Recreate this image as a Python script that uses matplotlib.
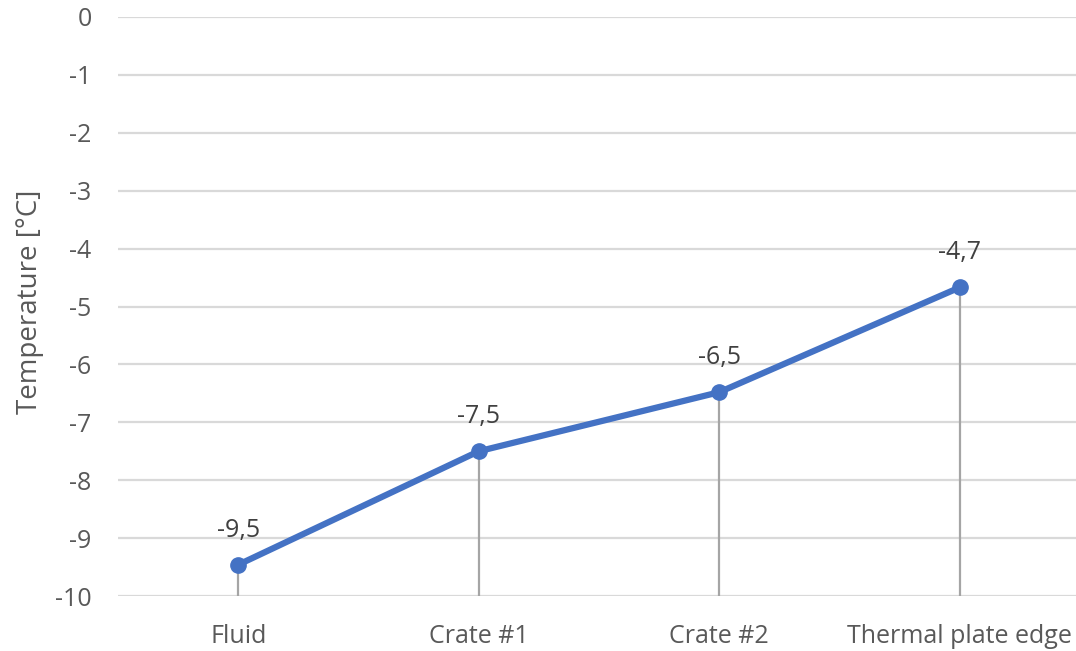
import matplotlib
matplotlib.use("Agg")
import matplotlib.pyplot as plt

categories = ["Fluid", "Crate #1", "Crate #2", "Thermal plate edge"]
temperatures = [-9.46, -7.5, -6.48, -4.67]
y_ticks = list(range(-10, 1))

plt.rcParams["font.family"] = ["Open Sans", "DejaVu Sans"]
text_color = "#595959"

fig = plt.figure(figsize=(10.76, 6.51), dpi=100)
ax = fig.add_axes([118 / 1076, 55 / 651, (1080 - 118) / 1076, (596 - 17) / 651])

x = list(range(len(categories)))
ax.set_xlim(-0.5, len(categories) - 0.5)
ax.set_ylim(-10, 0)

# horizontal gridlines
for t in y_ticks:
    ax.axhline(t, color="#d9d9d9", lw=1.6, zorder=0)

# drop lines from each point to the axis floor
ax.vlines(x, -10, temperatures, color="#a5a5a5", lw=1.6, zorder=1)

ax.plot(x, temperatures, color="#4472C4", lw=4.5, marker="o", ms=11,
        solid_capstyle="round", zorder=3)

for xi, v in zip(x, temperatures):
    ax.annotate(f"{v:.1f}".replace(".", ","), (xi, v), xytext=(0, 16),
                textcoords="offset points", ha="center", va="bottom",
                fontsize=18, color="#404040")

ax.set_xticks(x)
ax.set_xticklabels(categories)
ax.set_yticks(y_ticks)
ax.set_yticklabels([str(t) for t in y_ticks])
ax.tick_params(axis="both", length=0, labelsize=18, labelcolor=text_color)
ax.tick_params(axis="x", pad=20)
ax.tick_params(axis="y", pad=19)
for s in ax.spines.values():
    s.set_visible(False)

fig.text(30 / 1076, 1 - 302 / 651, "Temperature [°C]", rotation=90,
         ha="center", va="center", fontsize=20, color=text_color)

fig.savefig("out.png", dpi=100)
